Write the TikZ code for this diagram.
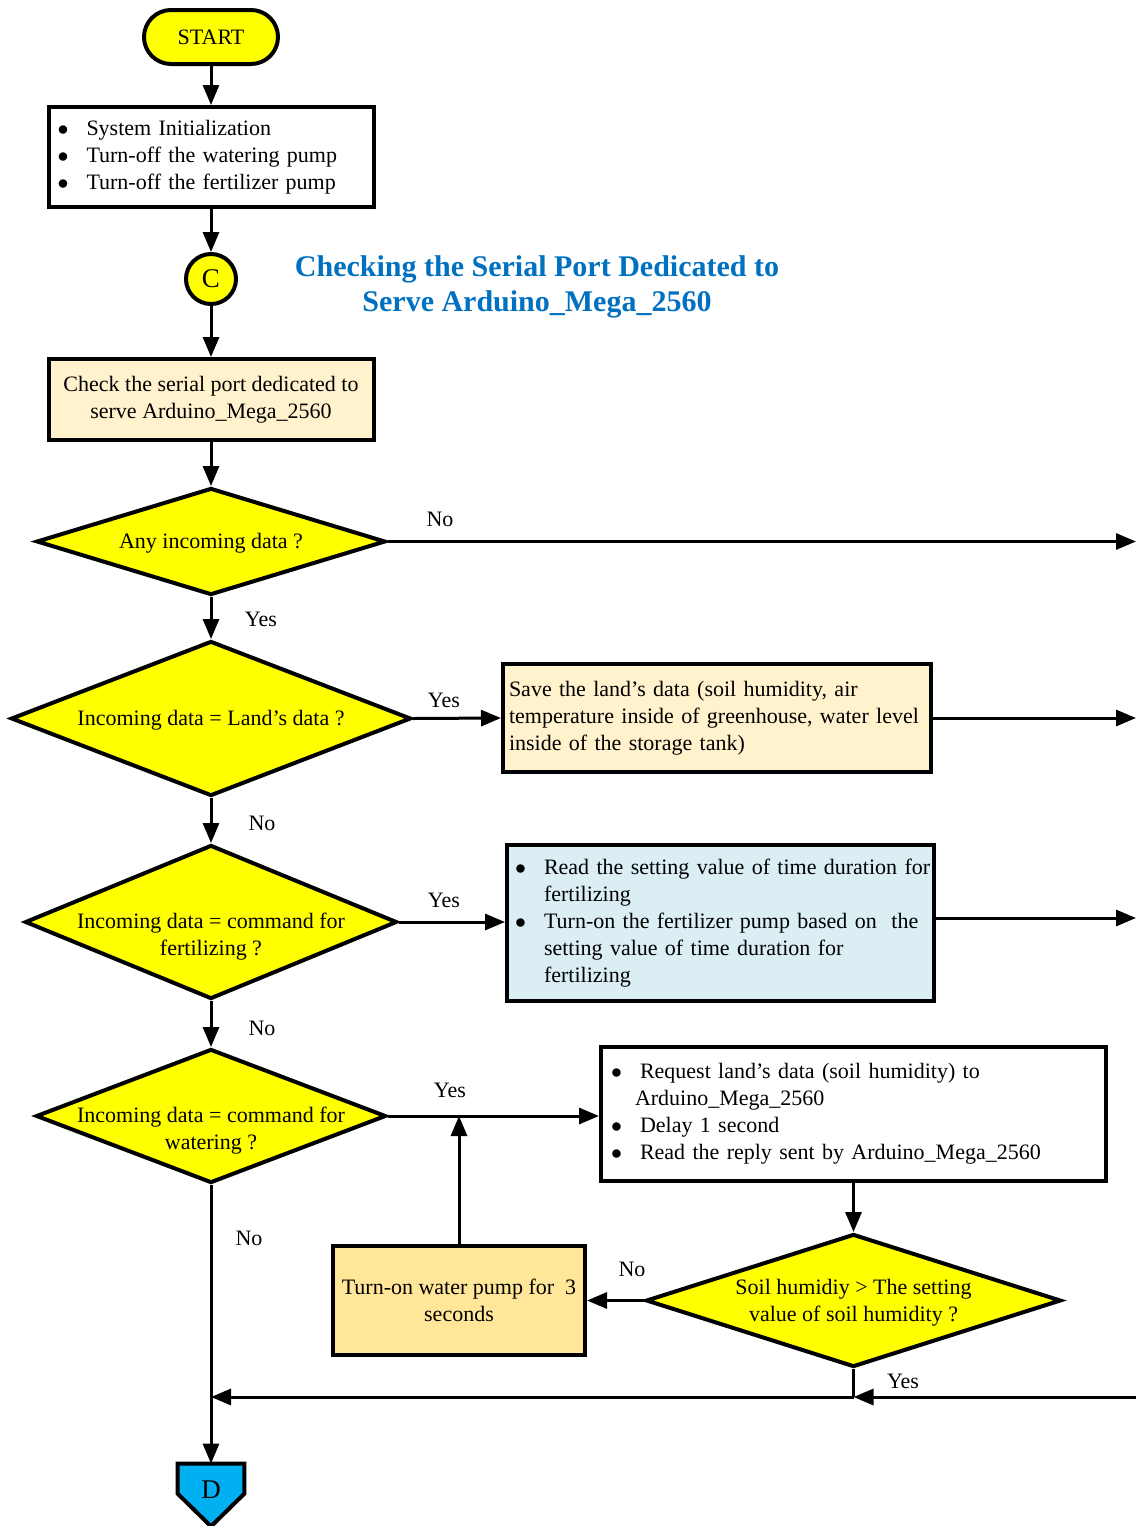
\documentclass[tikz,border=0pt]{standalone}
\usepackage{fontspec}
\setmainfont{Liberation Serif}
\usetikzlibrary{shapes.geometric,shapes.misc,arrows.meta,backgrounds}
\definecolor{ylw}{HTML}{FFFF00}
\definecolor{lightor}{HTML}{FFF2CC}
\definecolor{waterbox}{HTML}{FFE699}
\definecolor{fertbox}{HTML}{DAEEF3}
\definecolor{dcyan}{HTML}{00B0F0}
\definecolor{titleblue}{HTML}{0070C0}
\newcommand{\bl}{\makebox[14.5pt][l]{$\bullet$}}
\newcommand{\ind}{\hspace*{14.5pt}}
\newcommand{\lines}[1]{\noindent\begin{tabular}{@{}l@{}}#1\end{tabular}}
\begin{document}
\begin{tikzpicture}[x=0.5pt,y={(0pt,-0.5pt)},
  font=\fontsize{11}{13.5}\selectfont,
  box/.style={draw, line width=2pt, rectangle, inner sep=0pt},
  dec/.style={draw, diamond, fill=ylw, line width=2pt, inner sep=0pt},
  arr/.style={line width=1.5pt, -{Triangle[length=10pt,width=8pt]}},
  plain/.style={line width=1.5pt},
  lbl/.style={inner sep=0pt}]
\useasboundingbox (0,0) rectangle (1136,1526);

% title
\node[lbl, align=center, text=titleblue, font=\fontsize{15}{17.5}\selectfont\bfseries] (title) at (537,286.5)
  {Checking the Serial Port Dedicated to\\Serve Arduino\_Mega\_2560};

% main column
\node[box, rounded rectangle, fill=ylw, minimum width=67pt, minimum height=27pt] (start) at (211,37) {START};
\node[box, minimum width=162.5pt, minimum height=50pt, text width=153.5pt, inner xsep=4.5pt, align=left] (init) at (211,157)
  {\lines{\bl System Initialization\\\bl Turn-off the watering pump\\\bl Turn-off the fertilizer pump}};
\node[box, circle, fill=ylw, minimum size=25pt, font=\fontsize{13.5}{15}\selectfont] (C) at (211,279) {C};
\node[box, fill=lightor, minimum width=162.5pt, minimum height=40.5pt, align=center] (check) at (211,399.5)
  {Check the serial port dedicated to\\serve Arduino\_Mega\_2560};
\node[dec, minimum width=174.5pt, minimum height=53.5pt,
  label={[lbl, yshift=-1pt]center:Any incoming data ?}] (d1) at (211,541.5) {};
\node[dec, minimum width=200pt, minimum height=77.5pt,
  label={[lbl, yshift=-1pt]center:Incoming data = Land's data ?}] (d2) at (211,718.5) {};
\node[dec, minimum width=186pt, minimum height=77pt,
  label={[lbl, align=center, yshift=-7.5pt]center:Incoming data = command for\\fertilizing ?}] (d3) at (211,922) {};
\node[dec, minimum width=175pt, minimum height=67pt,
  label={[lbl, align=center, yshift=-7.5pt]center:Incoming data = command for\\watering ?}] (d4) at (211,1116) {};
\node[lbl, minimum width=33pt, minimum height=26pt, font=\fontsize{13.5}{15}\selectfont] (D) at (211,1490) {D};
\begin{scope}[on background layer]
\draw[line width=2pt, fill=dcyan, line join=miter]
  (D.north west) -- (D.north east) -- ([yshift=-15pt]D.north east) -- ([yshift=-5pt]D.south)
  -- ([yshift=-15pt]D.north west) -- cycle;
\end{scope}

% right-hand nodes
\node[box, fill=lightor, minimum width=214pt, minimum height=54pt, text width=208pt, inner xsep=3pt, align=left] (save) at (717,718)
  {\lines{Save the land's data (soil humidity, air\\temperature inside of greenhouse, water level\\inside of the storage tank)}};
\node[box, fill=fertbox, minimum width=213.5pt, minimum height=78pt, text width=205.5pt, inner xsep=4pt, align=left] (fert) at (720.5,923)
  {\lines{\bl Read the setting value of time duration for\\\ind fertilizing\\\bl Turn-on the fertilizer pump based on\ \ the\\\ind setting value of time duration for\\\ind fertilizing}};
\node[box, minimum width=252.5pt, minimum height=67pt, text width=242.5pt, inner xsep=5pt, align=left] (req) at (853.5,1114)
  {\lines{\bl Request land's data (soil humidity) to\\\hspace*{12pt}Arduino\_Mega\_2560\\\bl Delay 1 second\\\bl Read the reply sent by Arduino\_Mega\_2560}};
\node[dec, minimum width=207.5pt, minimum height=66.5pt,
  label={[lbl, align=center, yshift=-1pt]center:Soil humidiy > The setting\\value of soil humidity ?}] (d5) at (853.5,1300.5) {};
\node[box, fill=waterbox, minimum width=126pt, minimum height=54.5pt, align=center] (water) at (459,1300.5)
  {Turn-on water pump for\ \ 3\\seconds};

% free ends
\coordinate (e1) at (1136,541.5);
\coordinate (e2) at (1136,718);
\coordinate (e3) at (1136,918);
\coordinate (rin) at (1136,1397);
\coordinate (j) at (853.5,1397);

% connectors
\draw[arr] (start) -- (init);
\draw[arr] (init) -- (C);
\draw[arr] (C) -- (check);
\draw[arr] (check) -- (d1);
\draw[arr] (d1) -- (d2);
\draw[arr] (d2) -- (d3);
\draw[arr] (d3) -- (d4);
\draw[arr] (d4.south) -- (D.north);
\draw[arr] (d1.east) -- (e1);
\draw[arr] (d2.east) -- (save.west);
\draw[arr] (save.east) -- (e2);
\draw[arr] (d3.east) -- (fert.west |- d3.east);
\draw[arr] (fert.east |- e3) -- (e3);
\draw[arr] (d4.east) -- (req.west |- d4.east);
\draw[arr] (req.south) -- (d5.north);
\draw[arr] (d5.west) -- (water.east);
\draw[arr] (water.north) -- (water.north |- d4.east);
\draw[plain] (d5.south) -- (j);
\draw[arr] (rin) -- (j);
\draw[arr] (j) -- (d4.south |- j);

% labels
\node[lbl] (l1) at (440,519) {No};
\node[lbl] (l2) at (261,619) {Yes};
\node[lbl] (l3) at (444,700) {Yes};
\node[lbl] (l4) at (262,823) {No};
\node[lbl] (l5) at (444,900) {Yes};
\node[lbl] (l6) at (262,1028) {No};
\node[lbl] (l7) at (450,1090) {Yes};
\node[lbl] (l8) at (249,1238) {No};
\node[lbl] (l9) at (632,1269) {No};
\node[lbl] (l10) at (903,1381) {Yes};
\end{tikzpicture}
\end{document}
